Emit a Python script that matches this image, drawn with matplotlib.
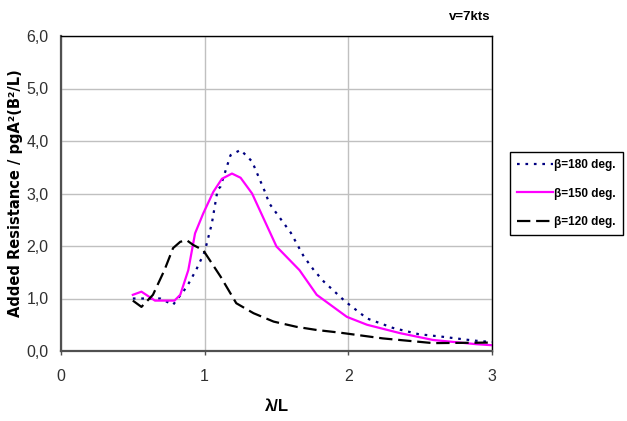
import matplotlib.pyplot as plt
from matplotlib.ticker import FuncFormatter

# wave length ratio and added resistance coefficient, v = 7 kts
x_180 = [0.50, 0.69, 0.78, 0.875, 0.94, 1.00, 1.05, 1.09, 1.11, 1.18, 1.25, 1.33,
         1.42, 1.45, 1.60, 1.69, 1.76, 1.83, 1.98, 2.13, 2.31, 2.49, 2.66, 2.87, 3.0]
ar_180 = [1.00, 1.00, 0.88, 1.22, 1.54, 1.89, 2.43, 3.07, 3.13, 3.73, 3.83, 3.61,
          3.03, 2.81, 2.25, 1.80, 1.54, 1.32, 0.94, 0.62, 0.44, 0.32, 0.27, 0.20, 0.17]

x_150 = [0.50, 0.56, 0.654, 0.79, 0.83, 0.886, 0.933, 0.99, 1.06, 1.12, 1.19, 1.25,
         1.33, 1.50, 1.66, 1.78, 1.99, 2.13, 2.36, 2.59, 2.89, 3.0]
ar_150 = [1.07, 1.13, 0.96, 0.96, 1.07, 1.54, 2.24, 2.62, 3.03, 3.28, 3.38, 3.30,
          3.00, 1.99, 1.54, 1.07, 0.65, 0.50, 0.34, 0.21, 0.13, 0.11]

x_120 = [0.50, 0.56, 0.64, 0.72, 0.78, 0.83, 0.875, 0.92, 0.99, 1.11, 1.22, 1.34,
         1.48, 1.64, 1.78, 1.94, 2.24, 2.59, 2.96, 3.0]
ar_120 = [0.96, 0.84, 1.07, 1.54, 1.96, 2.08, 2.11, 2.02, 1.92, 1.42, 0.91, 0.72,
          0.56, 0.46, 0.40, 0.35, 0.24, 0.15, 0.16, 0.16]

labels = ['β=180 deg.', 'β=150 deg.', 'β=120 deg.']

plt.rcParams['font.family'] = ['Liberation Sans', 'DejaVu Sans']

fig = plt.figure(figsize=(6.27, 4.21), dpi=100)
ax = fig.add_axes([61/627, 70/421, 431/627, 315/421])

ax.plot(x_180, ar_180, color='#000080', lw=1.6, linestyle=(0, (1.2, 2.6)), label=labels[0])
ax.plot(x_150, ar_150, color='#ff00ff', lw=1.6, label=labels[1])
ax.plot(x_120, ar_120, color='black', lw=1.6, linestyle=(0, (6, 2.6)), label=labels[2])

ax.set_xlim(0, 3)
ax.set_ylim(0, 6)
ax.set_xticks([0, 1, 2, 3])
ax.set_yticks([0, 1, 2, 3, 4, 5, 6])
ax.yaxis.set_major_formatter(FuncFormatter(lambda v, p: f'{v:.1f}'.replace('.', ',')))
ax.grid(True, color='#c0c0c0', lw=1)
ax.set_axisbelow(True)

for s in ['left', 'bottom']:
    ax.spines[s].set_color('#505050')
    ax.spines[s].set_linewidth(1.6)
for s in ['top', 'right']:
    ax.spines[s].set_color('black')
    ax.spines[s].set_linewidth(1.0)

ax.tick_params(axis='x', length=3, width=1, color='#505050', pad=10,
               labelsize=11.5, labelcolor='#303030')
ax.tick_params(axis='y', length=0, pad=9, labelsize=11.5, labelcolor='#303030')

ax.set_xlabel('λ/L', fontsize=12, fontweight='bold', labelpad=11)
ax.set_ylabel('Added Resistance / pgA²(B²/L)', fontsize=10.5, fontweight='bold',
              family='DejaVu Sans', labelpad=2)

fig.text(490/627, 1 - 17/421, 'v=7kts', fontsize=9.5, ha='right', va='center',
         fontweight='bold')

leg = fig.legend(loc='upper left', bbox_to_anchor=(510/627, 1 - 152/421),
                 prop={'weight': 'bold', 'size': 8.5},
                 frameon=True, fancybox=False, edgecolor='black', framealpha=1,
                 handlelength=3.0, handletextpad=0.15, labelspacing=1.4,
                 borderpad=0.6, borderaxespad=0)
leg.get_frame().set_linewidth(1.0)

fig.savefig('out.png', dpi=100)
